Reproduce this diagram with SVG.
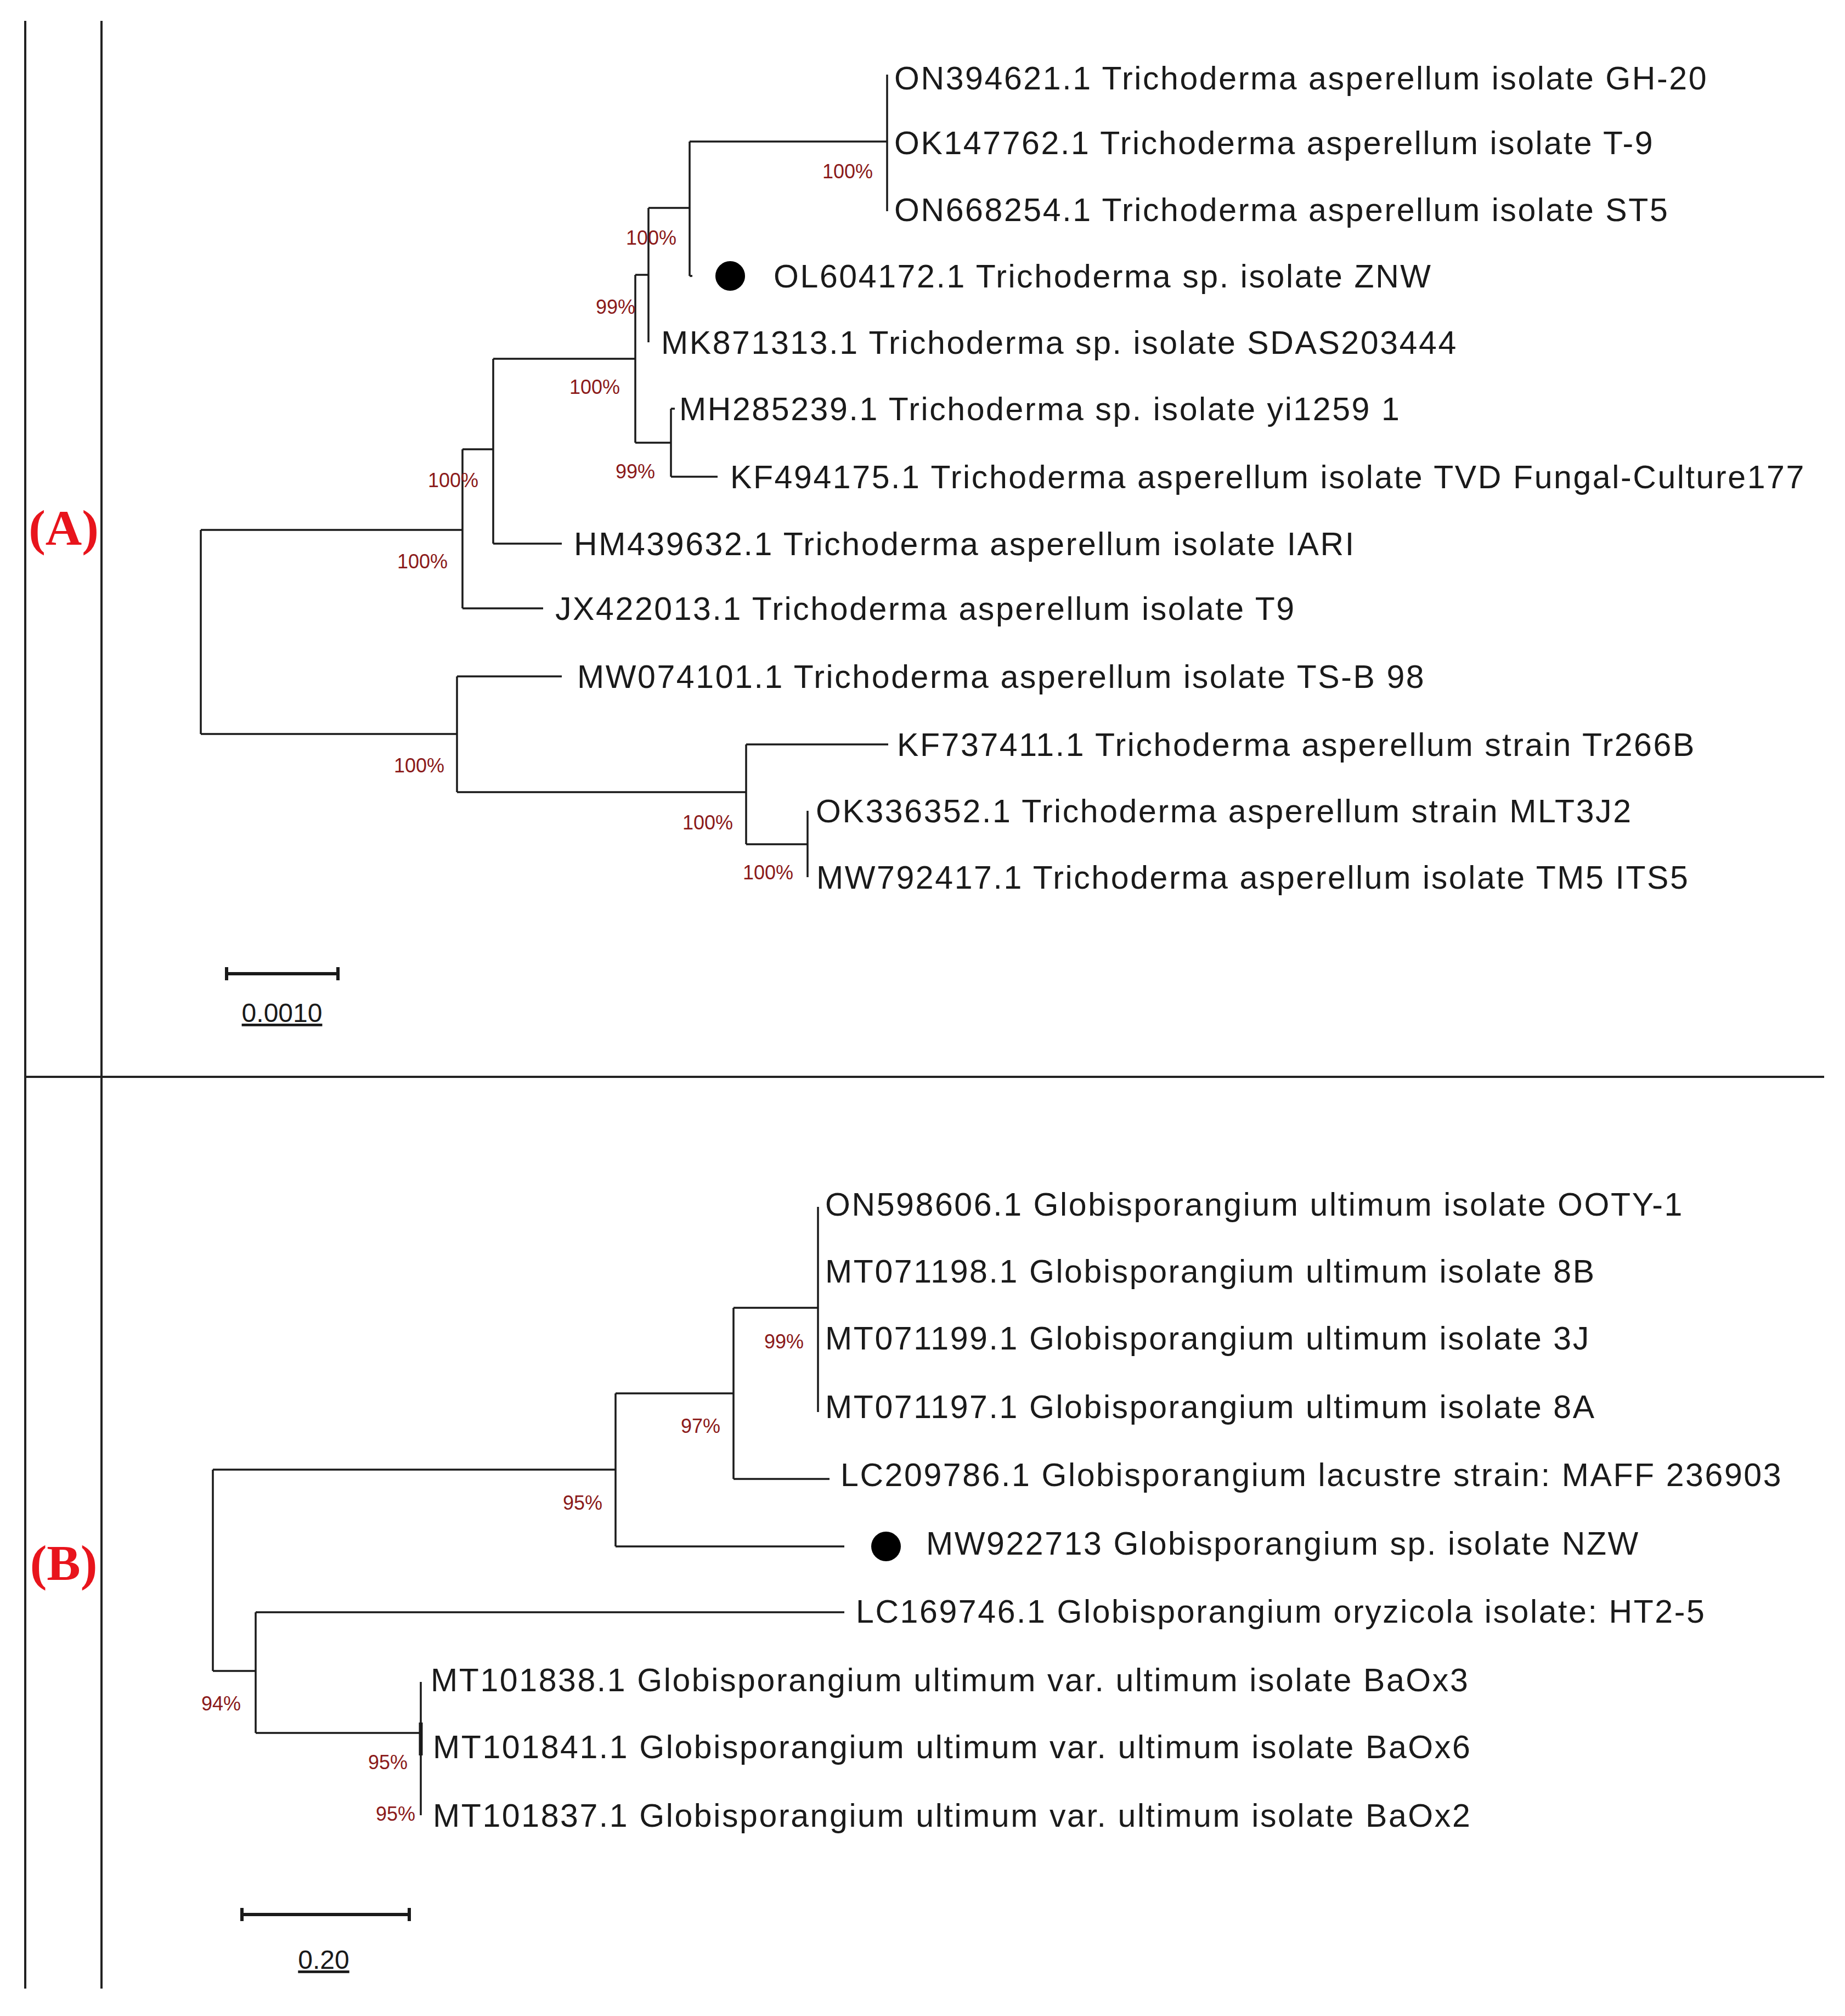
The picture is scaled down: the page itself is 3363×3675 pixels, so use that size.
<svg xmlns="http://www.w3.org/2000/svg" width="3363" height="3675" viewBox="0 0 3363 3675">
<style>
.t{font-family:"Liberation Sans",Arial,sans-serif;font-size:59px;letter-spacing:2.6px;fill:#1a1a1a}
.b{font-family:"Liberation Sans",Arial,sans-serif;font-size:36px;fill:#8b1a1a;text-anchor:middle}
.p{font-family:"Liberation Serif","Times New Roman",serif;font-size:92px;font-weight:bold;fill:#e8141c;text-anchor:middle}
.s{font-family:"Liberation Sans",Arial,sans-serif;font-size:48px;fill:#1a1a1a;text-anchor:middle;text-decoration:underline}
.e{stroke:#1a1a1a;stroke-width:3.5;fill:none}
.f{stroke:#222;stroke-width:4;fill:none}
</style>
<rect width="3363" height="3675" fill="#fff"/>
<g id="frame" class="f">
<line x1="46" y1="38" x2="46" y2="3625"/>
<line x1="185" y1="38" x2="185" y2="3625"/>
<line x1="46" y1="1963" x2="3325" y2="1963"/>
</g>
<text class="p" x="116" y="993">(A)</text>
<text class="p" x="116" y="2880">(B)</text>
<g id="connectors" class="e">
<path d="M366 966V1338M366 966H843M843 819V1109M843 1109H990M843 819H899M899 654V991M899 991H1024M899 654H1158M1158 501V807M1158 807H1223M1223 745V869M1223 745H1230M1223 869H1308M1158 501H1182M1182 379V624M1182 379H1257M1257 258V503M1257 503H1262M1257 258H1617M1617 136V385"/>
<path d="M366 1338H833M833 1233V1444M833 1233H1024M833 1444H1360M1360 1357V1539M1360 1357H1619M1360 1539H1472M1472 1478V1599"/>
<path d="M388 2679V3046M388 2679H1122M1122 2540V2819M1122 2819H1539M1122 2540H1337M1337 2384V2696M1337 2696H1512M1337 2384H1491M1491 2200V2574"/>
<path d="M388 3046H466M466 2939V3159M466 2939H1539M466 3159H767M767 3066V3309"/>
<path d="M767 3140V3200" stroke-width="7"/>
</g>
<g id="scalebars" stroke="#1a1a1a" stroke-width="6" fill="none">
<path d="M413 1775H616M413 1763V1787M616 1763V1787"/>
<path d="M441 3490H746M441 3478V3502M746 3478V3502"/>
</g>
<text class="s" x="514" y="1863">0.0010</text>
<text class="s" x="590" y="3589">0.20</text>
<g id="dots" fill="#000">
<circle cx="1331" cy="503" r="27"/>
<circle cx="1615" cy="2819" r="27"/>
</g>
<g id="leavesA">
<text class="t" x="1630" y="163">ON394621.1 Trichoderma asperellum isolate GH-20</text>
<text class="t" x="1630" y="281">OK147762.1 Trichoderma asperellum isolate T-9</text>
<text class="t" x="1630" y="403">ON668254.1 Trichoderma asperellum isolate ST5</text>
<text class="t" x="1410" y="524">OL604172.1 Trichoderma sp. isolate ZNW</text>
<text class="t" x="1205" y="645">MK871313.1 Trichoderma sp. isolate SDAS203444</text>
<text class="t" x="1238" y="766">MH285239.1 Trichoderma sp. isolate yi1259 1</text>
<text class="t" x="1331" y="890">KF494175.1 Trichoderma asperellum isolate TVD Fungal-Culture177</text>
<text class="t" x="1046" y="1012">HM439632.1 Trichoderma asperellum isolate IARI</text>
<text class="t" x="1012" y="1130">JX422013.1 Trichoderma asperellum isolate T9</text>
<text class="t" x="1052" y="1254">MW074101.1 Trichoderma asperellum isolate TS-B 98</text>
<text class="t" x="1635" y="1378">KF737411.1 Trichoderma asperellum strain Tr266B</text>
<text class="t" x="1487" y="1499">OK336352.1 Trichoderma asperellum strain MLT3J2</text>
<text class="t" x="1488" y="1620">MW792417.1 Trichoderma asperellum isolate TM5 ITS5</text>
</g>
<g id="bootA">
<text class="b" x="1545" y="325">100%</text>
<text class="b" x="1187" y="446">100%</text>
<text class="b" x="1122" y="572">99%</text>
<text class="b" x="1084" y="718">100%</text>
<text class="b" x="1158" y="872">99%</text>
<text class="b" x="826" y="888">100%</text>
<text class="b" x="770" y="1036">100%</text>
<text class="b" x="764" y="1408">100%</text>
<text class="b" x="1290" y="1512">100%</text>
<text class="b" x="1400" y="1603">100%</text>
</g>
<g id="leavesB">
<text class="t" x="1504" y="2216">ON598606.1 Globisporangium ultimum isolate OOTY-1</text>
<text class="t" x="1504" y="2338">MT071198.1 Globisporangium ultimum isolate 8B</text>
<text class="t" x="1504" y="2460">MT071199.1 Globisporangium ultimum isolate 3J</text>
<text class="t" x="1504" y="2585">MT071197.1 Globisporangium ultimum isolate 8A</text>
<text class="t" x="1532" y="2709">LC209786.1 Globisporangium lacustre strain: MAFF 236903</text>
<text class="t" x="1688" y="2834">MW922713 Globisporangium sp. isolate NZW</text>
<text class="t" x="1560" y="2958">LC169746.1 Globisporangium oryzicola isolate: HT2-5</text>
<text class="t" x="785" y="3083">MT101838.1 Globisporangium ultimum var. ultimum isolate BaOx3</text>
<text class="t" x="789" y="3205">MT101841.1 Globisporangium ultimum var. ultimum isolate BaOx6</text>
<text class="t" x="789" y="3330">MT101837.1 Globisporangium ultimum var. ultimum isolate BaOx2</text>
</g>
<g id="bootB">
<text class="b" x="1429" y="2458">99%</text>
<text class="b" x="1277" y="2612">97%</text>
<text class="b" x="1062" y="2752">95%</text>
<text class="b" x="403" y="3118">94%</text>
<text class="b" x="707" y="3225">95%</text>
<text class="b" x="721" y="3319">95%</text>
</g>
</svg>
